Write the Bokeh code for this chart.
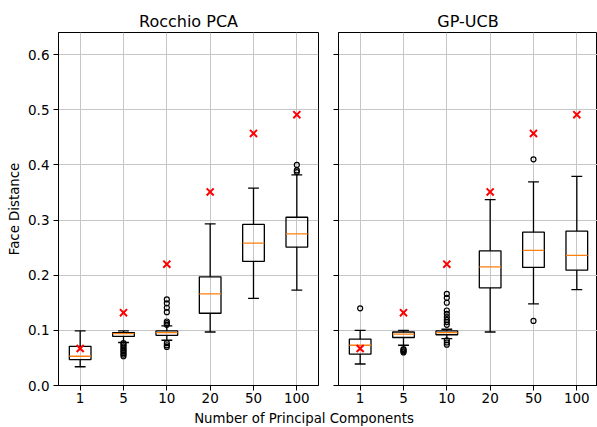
from bokeh.plotting import figure
from bokeh.layouts import row, column
from bokeh.models import FixedTicker, PrintfTickFormatter, Range1d, CustomJSTickFormatter
from bokeh.core.properties import value
from bokeh.embed import file_html
from bokeh.resources import INLINE

# ---------------- data ----------------
categories = ["1", "5", "10", "20", "50", "100"]
y_ticks = [0.0, 0.1, 0.2, 0.3, 0.4, 0.5, 0.6]

# Rocchio PCA box statistics
r_whislo = [0.034, 0.078, 0.082, 0.097, 0.158, 0.173]
r_q1     = [0.047, 0.089, 0.091, 0.131, 0.225, 0.251]
r_med    = [0.053, 0.094, 0.096, 0.166, 0.258, 0.275]
r_q3     = [0.071, 0.096, 0.099, 0.197, 0.292, 0.305]
r_whishi = [0.099, 0.099, 0.108, 0.293, 0.358, 0.382]
r_fliers = [
    [],
    [0.077, 0.074, 0.071, 0.068, 0.065, 0.062, 0.059, 0.056, 0.053],
    [0.110, 0.113, 0.116, 0.133, 0.141, 0.149, 0.156, 0.077, 0.073, 0.070],
    [],
    [],
    [0.387, 0.390, 0.400],
]

# GP-UCB box statistics
g_whislo = [0.039, 0.073, 0.085, 0.097, 0.148, 0.174]
g_q1     = [0.057, 0.087, 0.092, 0.177, 0.214, 0.209]
g_med    = [0.073, 0.093, 0.096, 0.215, 0.245, 0.236]
g_q3     = [0.084, 0.097, 0.099, 0.244, 0.278, 0.280]
g_whishi = [0.100, 0.100, 0.102, 0.337, 0.369, 0.379]
g_fliers = [
    [0.140],
    [0.066, 0.064, 0.062, 0.060],
    [0.110, 0.115, 0.119, 0.124, 0.130, 0.136, 0.150, 0.159, 0.166, 0.082, 0.078, 0.074],
    [],
    [0.410, 0.117],
    [],
]

# red crosses (same reference value in both panels)
target = [0.067, 0.132, 0.220, 0.351, 0.457, 0.491]

FONT = "DejaVu Sans"
GRID = "#c6c6c6"
UNIT_PX = 43.33  # pixels per category step (keeps both panels on the same scale)


def make_panel(title, whislo, q1, med, q3, whishi, fliers, width, x_end,
               left_border, right_border, show_ylabels):
    p = figure(width=width, height=408, title=title,
               x_range=Range1d(0.5, x_end), y_range=Range1d(0, 0.64),
               toolbar_location=None, output_backend="svg",
               min_border_left=left_border, min_border_right=right_border,
               min_border_top=32, min_border_bottom=23)
    p.background_fill_color = "white"
    p.border_fill_color = "white"
    p.outline_line_color = "black"
    p.outline_line_width = 1

    p.title.text_font = FONT
    p.title.text_font_size = "16px"
    p.title.text_font_style = "normal"
    p.title.align = "center"
    p.title.standoff = 4
    p.title.text_color = "black"

    xs = list(range(1, len(categories) + 1))

    # axes
    p.xaxis.ticker = FixedTicker(ticks=xs)
    p.xaxis.major_label_overrides = {x: c for x, c in zip(xs, categories)}
    p.yaxis.ticker = FixedTicker(ticks=y_ticks)
    p.yaxis.formatter = PrintfTickFormatter(format="%.1f")
    for ax in (p.xaxis, p.yaxis):
        ax.major_tick_out = 5
        ax.major_tick_in = 0
        ax.minor_tick_line_color = None
        ax.axis_line_color = "black"
        ax.major_tick_line_color = "black"
        ax.major_label_text_font = FONT
        ax.major_label_text_font_size = "13.5px"
        ax.major_label_text_color = "black"
        ax.major_label_standoff = 3
    p.xaxis.major_label_standoff = 2
    if show_ylabels:
        p.yaxis.major_label_standoff = 4
        p.yaxis.axis_label = "Face Distance"
        p.yaxis.axis_label_text_font = FONT
        p.yaxis.axis_label_text_font_size = "13.3px"
        p.yaxis.axis_label_text_font_style = "normal"
        p.yaxis.axis_label_text_color = "black"
        p.yaxis.axis_label_standoff = 3
    else:
        p.yaxis.formatter = CustomJSTickFormatter(code="return ''")
        p.yaxis.major_label_standoff = 0

    p.xgrid.ticker = FixedTicker(ticks=xs)
    p.ygrid.ticker = FixedTicker(ticks=y_ticks)
    p.grid.grid_line_color = GRID
    p.grid.grid_line_width = 1

    # boxes
    p.quad(left=[x - 0.25 for x in xs], right=[x + 0.25 for x in xs],
           bottom=q1, top=q3, fill_color=None, line_color="black", line_width=1.3)
    # whiskers
    p.segment(x0=xs, x1=xs, y0=q3, y1=whishi, line_color="black", line_width=1.3)
    p.segment(x0=xs, x1=xs, y0=q1, y1=whislo, line_color="black", line_width=1.3)
    # caps
    p.segment(x0=[x - 0.125 for x in xs], x1=[x + 0.125 for x in xs],
              y0=whishi, y1=whishi, line_color="black", line_width=1.3)
    p.segment(x0=[x - 0.125 for x in xs], x1=[x + 0.125 for x in xs],
              y0=whislo, y1=whislo, line_color="black", line_width=1.3)
    # medians
    p.segment(x0=[x - 0.25 for x in xs], x1=[x + 0.25 for x in xs],
              y0=med, y1=med, line_color="#ff7f0e", line_width=1.3)
    # fliers
    fx, fy = [], []
    for x, fl in zip(xs, fliers):
        for v in fl:
            fx.append(x)
            fy.append(v)
    p.scatter(fx, fy, marker="circle", size=5, fill_color=None,
              line_color="black", line_width=1.2)
    # red crosses
    p.scatter(xs, target, marker="x", size=10, line_color="red", line_width=2)
    return p


p1 = make_panel("Rocchio PCA", r_whislo, r_q1, r_med, r_q3, r_whishi, r_fliers,
                width=328, x_end=6.5, left_border=58, right_border=10,
                show_ylabels=True)
p2 = make_panel("GP-UCB", g_whislo, g_q1, g_med, g_q3, g_whishi, g_fliers,
                width=269, x_end=0.5 + 259 / UNIT_PX, left_border=10, right_border=0,
                show_ylabels=False)

# shared x-axis label strip
strip = figure(width=597, height=19, x_range=Range1d(0, 597), y_range=Range1d(0, 19),
               toolbar_location=None, output_backend="svg",
               min_border_left=0, min_border_right=0, min_border_top=0, min_border_bottom=0)
strip.axis.visible = False
strip.grid.visible = False
strip.outline_line_color = None
strip.text(x=[303.5], y=[9.5], text=["Number of Principal Components"],
           text_font=value(FONT), text_font_size="13.3px", text_color="black",
           text_align="center", text_baseline="middle")

layout = column(row(p1, p2), strip)
open("out.html", "w").write(file_html(layout, INLINE))
